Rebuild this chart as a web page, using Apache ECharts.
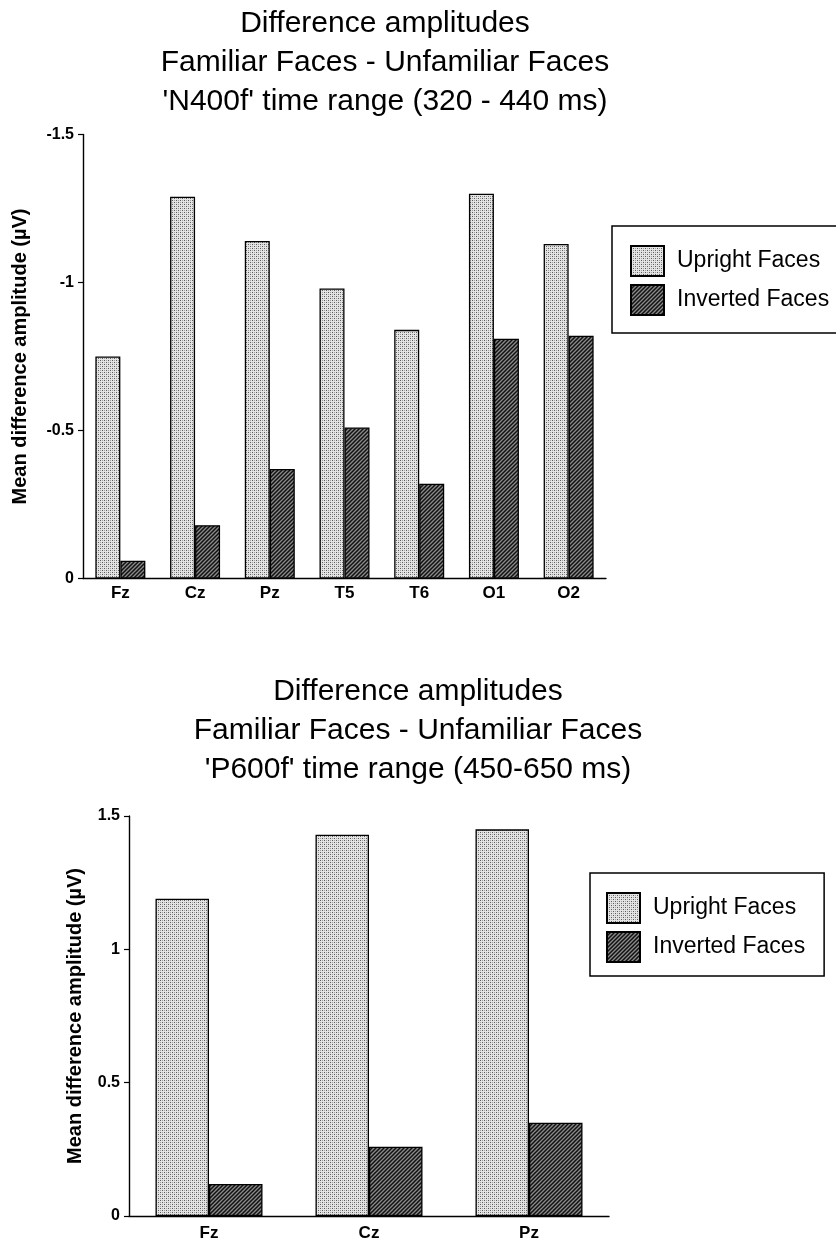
<!DOCTYPE html>
<html>
<head>
<meta charset="utf-8">
<script src="https://cdn.jsdelivr.net/npm/echarts@6/dist/echarts.min.js"></script>
<style>
  html, body { margin: 0; padding: 0; background: #fff; }
  #chart { width: 836px; height: 1242px; }
</style>
</head>
<body>
<div id="chart"></div>
<script>
// N400f window (320 - 440 ms): difference amplitudes per electrode (µV)
const electrodesN400 = ['Fz', 'Cz', 'Pz', 'T5', 'T6', 'O1', 'O2'];
const uprightN400 = [-0.75, -1.29, -1.14, -0.98, -0.84, -1.30, -1.13];
const invertedN400 = [-0.06, -0.18, -0.37, -0.51, -0.32, -0.81, -0.82];

// P600f window (450 - 650 ms)
const electrodesP600 = ['Fz', 'Cz', 'Pz'];
const uprightP600 = [1.19, 1.43, 1.45];
const invertedP600 = [0.12, 0.26, 0.35];

const seriesNames = ['Upright Faces', 'Inverted Faces'];
const titleN400 = ['Difference amplitudes', 'Familiar Faces - Unfamiliar Faces', "'N400f' time range (320 - 440 ms)"];
const titleP600 = ['Difference amplitudes', 'Familiar Faces - Unfamiliar Faces', "'P600f' time range (450-650 ms)"];
const yName = 'Mean difference amplitude (\u00b5V)';

const FONT = "'Liberation Sans', Arial, Helvetica, sans-serif";

// fine stipple fill for the upright bars
function stipple() {
  const c = document.createElement('canvas');
  c.width = 4; c.height = 4;
  const g = c.getContext('2d');
  g.fillStyle = '#e4e4e4';
  g.fillRect(0, 0, 4, 4);
  g.fillStyle = '#5a5a5a';
  g.fillRect(0, 0, 1, 1);
  g.fillRect(2, 2, 1, 1);
  g.fillStyle = '#a0a0a0';
  g.fillRect(2, 0, 1, 1);
  g.fillRect(0, 2, 1, 1);
  return c;
}

// dark diagonal hatch for the inverted bars
function hatch() {
  const c = document.createElement('canvas');
  c.width = 4; c.height = 4;
  const g = c.getContext('2d');
  g.fillStyle = '#8a8a8a';
  g.fillRect(0, 0, 4, 4);
  g.strokeStyle = '#111';
  g.lineWidth = 1.5;
  g.beginPath();
  g.moveTo(-1, 5); g.lineTo(5, -1);
  g.moveTo(-1, 1); g.lineTo(1, -1);
  g.moveTo(3, 5); g.lineTo(5, 3);
  g.stroke();
  return c;
}

const uprightStyle = { color: { image: stipple(), repeat: 'repeat' }, borderColor: '#000', borderWidth: 1.3 };
const invertedStyle = { color: { image: hatch(), repeat: 'repeat' }, borderColor: '#000', borderWidth: 1.3 };

const axisLineStyle = { show: true, lineStyle: { color: '#000', width: 1.4 } };

function yAxisFor(gridIndex, min, max, nameGap, inverse) {
  return {
    gridIndex, type: 'value', min, max, interval: 0.5, inverse,
    axisLine: axisLineStyle,
    axisTick: { show: true, length: 5, lineStyle: { color: '#000', width: 1.2 } },
    splitLine: { show: false },
    axisLabel: { color: '#000', fontFamily: FONT, fontSize: 16, fontWeight: 'bold', margin: 9 },
    name: yName, nameLocation: 'middle', nameGap, nameRotate: 90,
    nameTextStyle: { color: '#000', fontFamily: FONT, fontSize: 20, fontWeight: 'bold' }
  };
}

function xAxisFor(gridIndex, data, margin) {
  return {
    gridIndex, type: 'category', data,
    axisLine: axisLineStyle,
    axisTick: { show: false },
    axisLabel: { color: '#000', fontFamily: FONT, fontSize: 17, fontWeight: 'bold', margin }
  };
}

function legendAt(left, top, padding) {
  return {
    left, top, orient: 'vertical',
    data: seriesNames,
    itemWidth: 33, itemHeight: 30, itemGap: 7,
    icon: 'rect',
    padding,
    borderColor: '#000', borderWidth: 1.5,
    selectedMode: false,
    textStyle: { color: '#000', fontFamily: FONT, fontSize: 23, padding: [0, 0, 0, 8] }
  };
}

const chart = echarts.init(document.getElementById('chart'), null, { renderer: 'canvas' });

chart.setOption({
  backgroundColor: '#fff',
  animation: false,
  title: [
    {
      text: titleN400.join('\n'), left: 380, top: -1, textAlign: 'center',
      textStyle: { color: '#000', fontFamily: FONT, fontSize: 30, fontWeight: 'normal', lineHeight: 39 }
    },
    {
      text: titleP600.join('\n'), left: 413, top: 667, textAlign: 'center',
      textStyle: { color: '#000', fontFamily: FONT, fontSize: 30, fontWeight: 'normal', lineHeight: 39 }
    }
  ],
  legend: [
    legendAt(612, 226, [19, 60, 17, 18]),
    legendAt(590, 873, [19, 19, 13, 16])
  ],
  grid: [
    { left: 83, top: 134.5, width: 523, height: 444 },
    { left: 129, top: 816, width: 480, height: 401.5 }
  ],
  xAxis: [
    xAxisFor(0, electrodesN400, 6),
    xAxisFor(1, electrodesP600, 9)
  ],
  yAxis: [
    yAxisFor(0, -1.5, 0, 53, true),
    yAxisFor(1, 0, 1.5, 44, false)
  ],
  series: [
    { name: seriesNames[0], type: 'bar', xAxisIndex: 0, yAxisIndex: 0, data: uprightN400,
      barWidth: 25, barGap: '0%', itemStyle: uprightStyle },
    { name: seriesNames[1], type: 'bar', xAxisIndex: 0, yAxisIndex: 0, data: invertedN400,
      barWidth: 25, barGap: '0%', itemStyle: invertedStyle },
    { name: seriesNames[0], type: 'bar', xAxisIndex: 1, yAxisIndex: 1, data: uprightP600,
      barWidth: 53.5, barGap: '0%', itemStyle: uprightStyle },
    { name: seriesNames[1], type: 'bar', xAxisIndex: 1, yAxisIndex: 1, data: invertedP600,
      barWidth: 53.5, barGap: '0%', itemStyle: invertedStyle }
  ]
});
</script>
</body>
</html>
